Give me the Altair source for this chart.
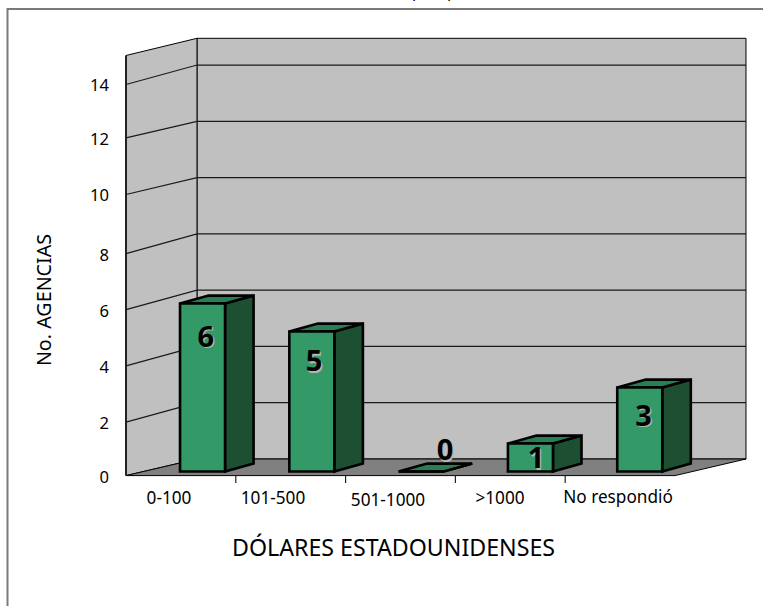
import altair as alt
import pandas as pd

# Chart content
CATEGORIES = ["0-100", "101-500", "501-1000", ">1000", "No respondió"]
AGENCIES = [6, 5, 0, 1, 3]
TICKS = [0, 2, 4, 6, 8, 10, 12, 14]
Y_TITLE = "No. AGENCIAS"
X_TITLE = "DÓLARES ESTADOUNIDENSES"

# Pseudo-3D layout, in scale units: one category per x unit, one agency per y unit
WIDTH, HEIGHT = 763, 606
X_ORIGIN, X_STEP = 126.0, 109.8
Y_ORIGIN, Y_STEP = 459.0, 28.14
WALL_DX = 0.6466
WALL_TOP = 14.95
WALL_RISE_BOTTOM = 0.59
WALL_RISE_TOP = 0.61
GRID_RISE = [0.59, 0.69, 0.69, 0.69, 0.70, 0.60, 0.59, 0.69]
BAR_START, BAR_PITCH, BAR_W = 0.492, 0.9955, 0.41
BAR_BASE = -0.444
BAR_UNIT = 0.995
BAR_DX, BAR_RISE = 0.26, 0.28
TEXT_NUDGE = 2.0  # optical centring of text against its anchor, in pixels

FONT = "Noto Sans"
WALL = "#C0C0C0"
FLOOR = "#808080"
FRONT = "#339966"
SIDE = "#1D4F33"
TOP = "#2A7F52"


def cat_at(px):
    return (px - X_ORIGIN) / X_STEP


def val_at(py):
    return (Y_ORIGIN - py) / Y_STEP


X = alt.X("x:Q", axis=None, scale=alt.Scale(domain=[cat_at(0), cat_at(WIDTH)], nice=False, zero=False))
Y = alt.Y("y:Q", axis=None, scale=alt.Scale(domain=[val_at(HEIGHT), val_at(0)], nice=False, zero=False))


def polygons(shapes, fill, stroke="black", width=1.0):
    rows = []
    for sid, pts in enumerate(shapes):
        for k, (x, y) in enumerate(pts):
            rows.append({"x": x, "y": y, "k": k, "sid": sid})
    return (
        alt.Chart(pd.DataFrame(rows))
        .mark_line(interpolate="linear-closed", fill=fill, stroke=stroke, strokeWidth=width, strokeJoin="miter")
        .encode(x=X, y=Y, order="k:Q", detail="sid:N")
    )


def segments(shapes, color="black", width=1.0):
    rows = []
    for sid, pts in enumerate(shapes):
        for k, (x, y) in enumerate(pts):
            rows.append({"x": x, "y": y, "k": k, "sid": sid})
    return (
        alt.Chart(pd.DataFrame(rows))
        .mark_line(stroke=color, strokeWidth=width)
        .encode(x=X, y=Y, order="k:Q", detail="sid:N")
    )


def labels(rows, **mark):
    return (
        alt.Chart(pd.DataFrame(rows, columns=["x", "y", "t"]))
        .mark_text(font=FONT, **mark)
        .encode(x=X, y=Y, text="t:N")
    )


layers = []

# Outer frame, open to the right and below
layers.append(segments([[(cat_at(WIDTH), val_at(9)), (cat_at(7.5), val_at(9)), (cat_at(7.5), val_at(HEIGHT))]],
                       color="#7A7A7A", width=2))

# Back wall, side wall and floor
back_l, back_r = WALL_DX, len(CATEGORIES) + WALL_DX
layers.append(polygons([[(back_l, 0), (back_r, 0), (back_r, WALL_TOP), (back_l, WALL_TOP)]], WALL))
layers.append(polygons([[(0, -WALL_RISE_BOTTOM), (back_l, 0), (back_l, WALL_TOP), (0, WALL_TOP - WALL_RISE_TOP)]], WALL))
layers.append(polygons([[(0, -WALL_RISE_BOTTOM), (len(CATEGORIES), -WALL_RISE_BOTTOM), (back_r, 0), (back_l, 0)]], FLOOR))
layers.append(segments([[(0, -WALL_RISE_BOTTOM), (0, WALL_TOP - WALL_RISE_TOP)]], color="#222222", width=2))

# Gridlines wrap around the two walls
layers.append(segments(
    [[(0, t - r), (back_l, t), (back_r, t)] for t, r in zip(TICKS[1:], GRID_RISE[1:])],
    color="#1A1A1A", width=1.2))

# Category separators under the floor
layers.append(segments(
    [[(i, -WALL_RISE_BOTTOM), (i, -WALL_RISE_BOTTOM - 0.26)] for i in range(1, len(CATEGORIES))],
    color="#222222", width=1.2))

# Bars: front, side and top faces
fronts, sides, tops = [], [], []
for i, v in enumerate(AGENCIES):
    l = BAR_START + i * BAR_PITCH
    r = l + BAR_W
    b, t = BAR_BASE, BAR_BASE + v * BAR_UNIT
    fronts.append([(l, b), (r, b), (r, t), (l, t)])
    sides.append([(r, b), (r + BAR_DX, b + BAR_RISE), (r + BAR_DX, t + BAR_RISE), (r, t)])
    tops.append([(l, t), (r, t), (r + BAR_DX, t + BAR_RISE), (l + BAR_DX, t + BAR_RISE)])
layers.append(polygons(sides, SIDE, width=2.6))
layers.append(polygons(tops, TOP, width=2.6))
layers.append(polygons(fronts, FRONT, width=2.6))

# Value labels with a pale drop shadow
LABEL_X = [205.8, 314, 445, 536, 643.5]
LABEL_DROP = [34.5, 31, -20, 16, 29.5]
value_rows, shadow_rows = [], []
for i, v in enumerate(AGENCIES):
    top_y = BAR_BASE + v * BAR_UNIT - LABEL_DROP[i] / Y_STEP
    value_rows.append((cat_at(LABEL_X[i]), top_y, str(v)))
    shadow_rows.append((cat_at(LABEL_X[i] + 1.2), top_y - 1.2 / Y_STEP, str(v)))
layers.append(labels(shadow_rows, fontSize=29, fontWeight="bold", color="#B5B5B5", baseline="middle"))
layers.append(labels(value_rows, fontSize=29, fontWeight="bold", color="black", baseline="middle"))

# Value axis labels sit beside the front edge of the side wall
layers.append(labels(
    [(cat_at(109), t - r - TEXT_NUDGE / Y_STEP, str(t)) for t, r in zip(TICKS, GRID_RISE)],
    fontSize=16.6, color="black", align="right", baseline="middle"))

# Category labels
CAT_X = [169, 273, 388, 500, 618]
CAT_Y = [497, 497, 498.7, 497, 495.7]
layers.append(labels(
    [(cat_at(x), val_at(y + TEXT_NUDGE), c) for x, y, c in zip(CAT_X, CAT_Y, CATEGORIES)],
    fontSize=17.2, color="black", baseline="middle"))

# Axis titles
layers.append(labels([(cat_at(393.5), val_at(547 + TEXT_NUDGE), X_TITLE)], fontSize=23.2, color="black", baseline="middle"))
layers.append(labels([(cat_at(45), val_at(300), Y_TITLE)], fontSize=19.7, color="black", angle=270, baseline="middle"))

# Descenders of the heading cut off by the top edge
layers.append(labels([(cat_at(417), val_at(-3), "p"), (cat_at(452), val_at(-3), "p")],
                     fontSize=16, color="black", baseline="alphabetic"))

chart = (
    alt.layer(*layers)
    .properties(width=WIDTH, height=HEIGHT, padding=0, autosize=alt.AutoSizeParams(type="none"), background="white")
    .configure_view(stroke=None)
)

chart.save("out.html", embed_options={"renderer": "svg", "actions": False})
